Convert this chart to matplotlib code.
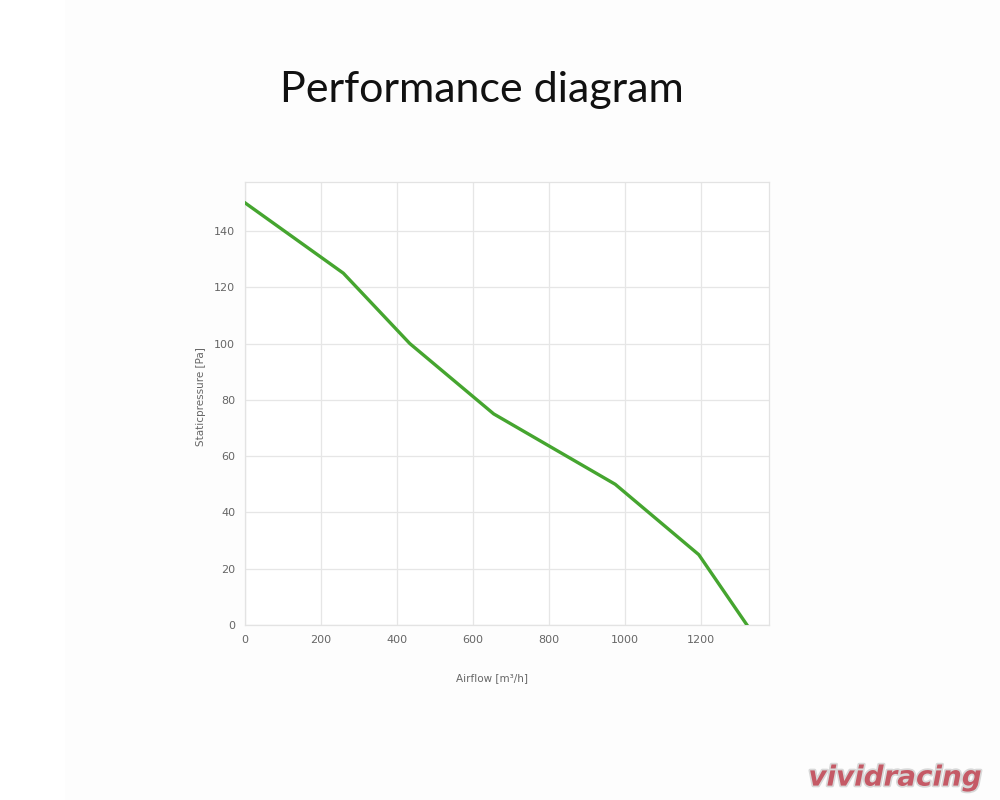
# Performance diagram - static pressure vs airflow

import matplotlib
matplotlib.use("Agg")
import matplotlib.pyplot as plt
import matplotlib.patheffects as pe
from matplotlib.patches import Rectangle

# data
airflow = [0, 259, 434, 655, 975, 1195, 1322]
pressure = [150, 125, 100, 75, 50, 25, 0]
x_ticks = [0, 200, 400, 600, 800, 1000, 1200]
y_ticks = [0, 20, 40, 60, 80, 100, 120, 140]

fig = plt.figure(figsize=(10, 8), dpi=100)
fig.patch.set_facecolor("white")
fig.patches.append(Rectangle((0.065, 0), 0.935, 1, transform=fig.transFigure,
                             facecolor="#fdfdfd", edgecolor="none", zorder=-1))

ax = fig.add_axes([0.245, 0.21875, 0.524, 0.55375])
ax.set_facecolor("white")
ax.plot(airflow, pressure, color="#45a52f", lw=2.4, solid_joinstyle="round", zorder=3)

ax.set_xlim(0, 1380)
ax.set_ylim(0, 157.4)
ax.set_xticks(x_ticks)
ax.set_yticks(y_ticks)
ax.grid(True, color="#e6e6e6", lw=0.9)
ax.tick_params(length=0, labelsize=8, labelcolor="#666666", pad=7)
for side in ["top", "right", "left", "bottom"]:
    ax.spines[side].set_color("#e3e3e3")
    ax.spines[side].set_linewidth(0.9)

fig.text(0.201, 0.504, "Staticpressure [Pa]", rotation=90, ha="center", va="center",
         fontsize=7.5, color="#666666")
fig.text(0.492, 0.152, "Airflow [m³/h]", ha="center", va="center",
         fontsize=7.5, color="#666666")

fig.text(0.482, 0.888, "Performance diagram", ha="center", va="center",
         fontsize=31, color="#111111", family="Lato")

# watermark
wm = fig.text(0.895, 0.028, "vividracing", ha="center", va="center", fontsize=20,
              style="italic", weight="bold", color="#c55a66")
wm.set_path_effects([pe.withStroke(linewidth=2.5, foreground="#d8d8d8")])

fig.savefig("out.png", dpi=100)
